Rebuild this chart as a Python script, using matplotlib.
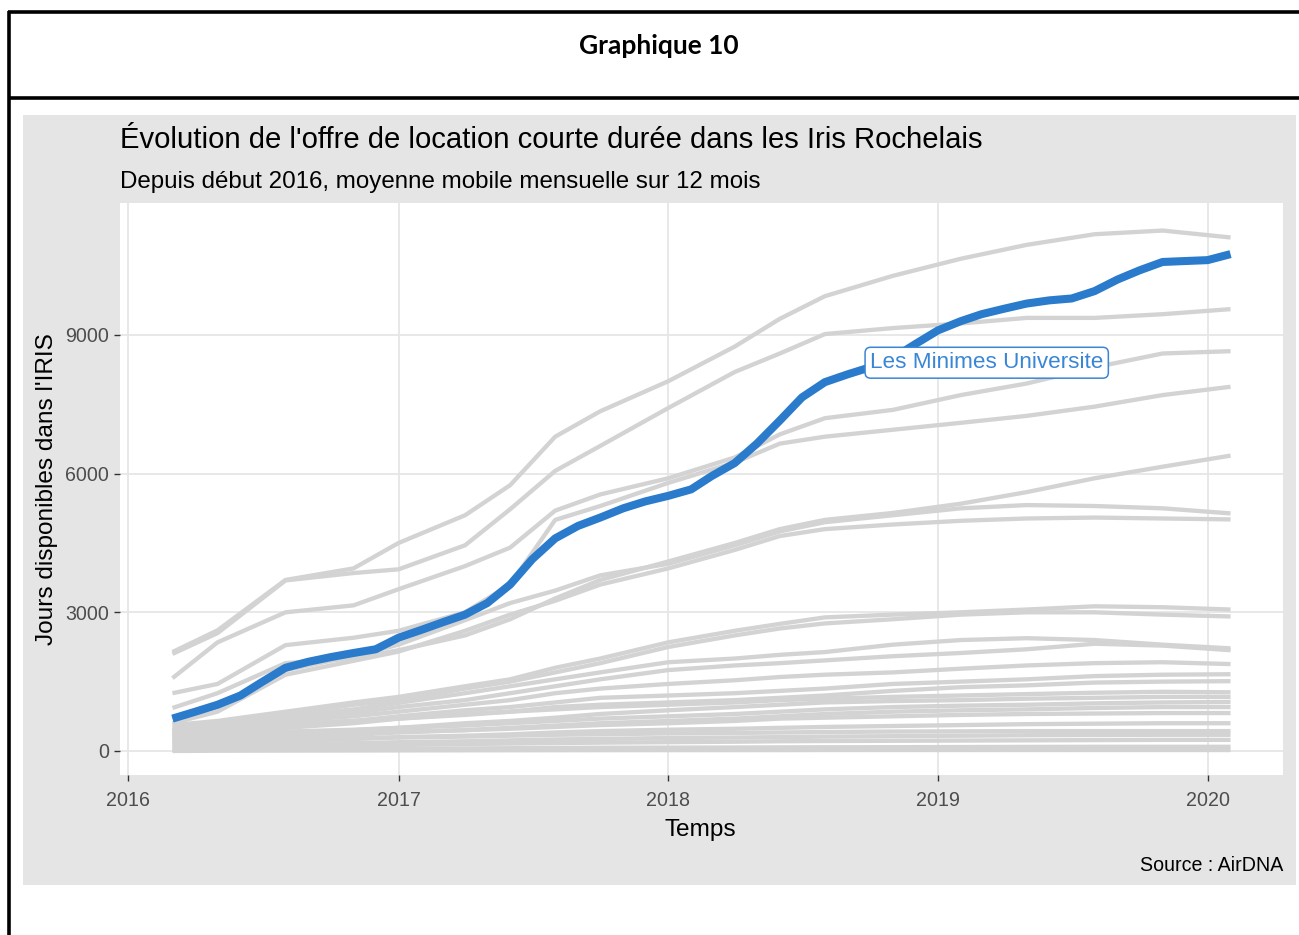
import matplotlib
matplotlib.use("Agg")
import matplotlib.pyplot as plt
import matplotlib.dates as mdates
from matplotlib.patches import Rectangle
from matplotlib.lines import Line2D
import pandas as pd
import datetime as dt

# ---------------- data ----------------
blue_name = "Les Minimes Universite"
blue_dates = pd.date_range("2016-03-01", "2020-02-01", freq="MS")
blue_values = [700, 850, 1000, 1200, 1500, 1800, 1930, 2030, 2120, 2200,
               2450, 2620, 2780, 2950, 3200, 3600, 4150, 4600, 4870, 5050,
               5250, 5400, 5520, 5660, 5950, 6230, 6650, 7150, 7650, 7980,
               8150, 8300, 8500, 8800, 9100, 9300, 9450, 9570, 9680, 9750,
               9790, 9950, 10200, 10400, 10580, 10600, 10620, 10750]

grey_dates = pd.to_datetime([
    "2016-03-01", "2016-05-01", "2016-08-01", "2016-11-01", "2017-01-01",
    "2017-04-01", "2017-06-01", "2017-08-01", "2017-10-01", "2018-01-01",
    "2018-04-01", "2018-06-01", "2018-08-01", "2018-11-01", "2019-02-01",
    "2019-05-01", "2019-08-01", "2019-11-01", "2020-02-01"])

iris_a = [2140, 2610, 3700, 3950, 4500, 5100, 5750, 6800, 7350, 8000, 8750, 9350, 9840, 10280, 10650, 10950, 11180, 11260, 11110]
iris_b = [2100, 2550, 3690, 3850, 3930, 4450, 5230, 6060, 6600, 7420, 8200, 8600, 9020, 9150, 9250, 9370, 9370, 9450, 9560]
iris_c = [1575, 2350, 3000, 3150, 3500, 4000, 4400, 5200, 5550, 5900, 6350, 6850, 7200, 7380, 7700, 7950, 8300, 8600, 8650]
iris_d = [1250, 1450, 2290, 2450, 2600, 3000, 3600, 5000, 5300, 5800, 6240, 6650, 6800, 6950, 7100, 7250, 7450, 7700, 7880]
iris_e = [930, 1250, 1900, 2000, 2180, 2500, 2850, 3300, 3700, 4100, 4500, 4800, 5000, 5150, 5350, 5600, 5900, 6150, 6390]
iris_f = [700, 950, 1750, 2050, 2300, 2830, 3200, 3470, 3800, 4050, 4450, 4750, 4950, 5100, 5250, 5320, 5300, 5250, 5140]
iris_g = [600, 850, 1650, 1950, 2150, 2600, 2950, 3250, 3600, 3950, 4350, 4650, 4800, 4900, 4980, 5030, 5050, 5030, 5010]
iris_h = [560, 650, 850, 1050, 1170, 1400, 1550, 1800, 2000, 2350, 2600, 2750, 2890, 2950, 3000, 3060, 3130, 3110, 3060]
iris_i = [500, 600, 800, 1000, 1100, 1350, 1500, 1700, 1900, 2250, 2500, 2650, 2760, 2850, 2950, 3000, 3000, 2950, 2910]
iris_j = [450, 550, 750, 900, 1040, 1250, 1400, 1550, 1700, 1920, 2000, 2080, 2140, 2300, 2400, 2440, 2400, 2300, 2220]
iris_k = [400, 500, 680, 820, 950, 1100, 1250, 1400, 1550, 1750, 1850, 1900, 1960, 2050, 2120, 2200, 2320, 2280, 2180]
iris_l = [400, 480, 650, 750, 850, 1000, 1100, 1250, 1350, 1450, 1530, 1600, 1650, 1700, 1780, 1850, 1900, 1920, 1880]
iris_m = [350, 420, 550, 650, 750, 880, 950, 1050, 1150, 1200, 1250, 1300, 1350, 1450, 1500, 1550, 1620, 1650, 1660]
iris_n = [300, 380, 500, 600, 700, 800, 850, 950, 1000, 1050, 1100, 1150, 1200, 1300, 1380, 1420, 1480, 1500, 1510]
iris_o = [450, 500, 600, 650, 700, 780, 850, 900, 950, 1000, 1050, 1100, 1130, 1170, 1200, 1230, 1260, 1280, 1270]
iris_p = [250, 300, 400, 450, 500, 600, 650, 720, 800, 880, 950, 1000, 1050, 1080, 1100, 1130, 1150, 1170, 1170]
iris_q = [350, 380, 420, 460, 500, 550, 600, 650, 700, 750, 800, 850, 900, 950, 980, 1000, 1030, 1050, 1060]
iris_r = [200, 250, 300, 350, 400, 450, 500, 550, 600, 650, 700, 750, 800, 850, 880, 900, 930, 950, 950]
iris_s = [300, 320, 350, 380, 420, 450, 480, 520, 560, 600, 650, 700, 720, 750, 780, 800, 810, 820, 820]
iris_t = [150, 180, 220, 260, 300, 330, 360, 400, 430, 460, 480, 500, 520, 540, 560, 580, 590, 600, 600]
iris_u = [200, 220, 250, 270, 290, 310, 330, 350, 360, 380, 390, 400, 410, 420, 425, 430, 430, 430, 430]
iris_v = [100, 120, 150, 170, 190, 210, 230, 250, 260, 280, 290, 300, 310, 320, 330, 340, 345, 350, 350]
iris_w = [80, 90, 110, 120, 130, 150, 160, 170, 180, 190, 200, 210, 215, 220, 225, 230, 235, 240, 240]
iris_x = [30, 35, 40, 45, 50, 55, 60, 65, 70, 72, 75, 78, 80, 82, 85, 88, 90, 90, 90]
iris_y = [0, 5, 8, 10, 12, 14, 15, 16, 17, 18, 18, 19, 20, 20, 20, 20, 20, 20, 20]

grey_series = [iris_a, iris_b, iris_c, iris_d, iris_e, iris_f, iris_g, iris_h,
               iris_i, iris_j, iris_k, iris_l, iris_m, iris_n, iris_o, iris_p,
               iris_q, iris_r, iris_s, iris_t, iris_u, iris_v, iris_w, iris_x, iris_y]

y_ticks = [0, 3000, 6000, 9000]
x_tick_years = [2016, 2017, 2018, 2019, 2020]

title = "Évolution de l'offre de location courte durée dans les Iris Rochelais"
subtitle = "Depuis début 2016, moyenne mobile mensuelle sur 12 mois"
caption = "Source : AirDNA"
x_title = "Temps"
y_title = "Jours disponibles dans l'IRIS"
doc_title = "Graphique 10"

# ---------------- figure ----------------
W, H = 1299, 935
fig = plt.figure(figsize=(W / 100, H / 100), dpi=100)
fig.patch.set_facecolor("white")

def fx(px):
    return px / W

def fy(py):
    return 1 - py / H

# document frame
frame_kw = dict(color="black", lw=2.6, transform=fig.transFigure, solid_capstyle="butt")
fig.add_artist(Line2D([fx(8), 1.0], [fy(12), fy(12)], **frame_kw))
fig.add_artist(Line2D([fx(8), 1.0], [fy(98), fy(98)], **frame_kw))
fig.add_artist(Line2D([fx(9), fx(9)], [fy(11), 0.0], **frame_kw))
fig.text(fx(659), fy(54), doc_title, ha="center", va="baseline",
         fontsize=19, fontweight="bold", family="Lato", color="black")

# ggplot plot background
fig.add_artist(Rectangle((fx(23), fy(885)), fx(1296) - fx(23), fy(115) - fy(885),
                         transform=fig.transFigure, facecolor="#E5E5E5",
                         edgecolor="none", zorder=0))

font = "Liberation Sans"
ax = fig.add_axes([fx(120), fy(775), fx(1283) - fx(120), fy(203) - fy(775)])
ax.set_facecolor("white")
for s in ax.spines.values():
    s.set_visible(False)

grey = "#D3D3D3"
blue = "#2A7BCB"
for vals in grey_series:
    ax.plot(grey_dates, vals, color=grey, lw=3.1, solid_capstyle="butt", zorder=2)
ax.plot(blue_dates, blue_values, color=blue, lw=5.8, solid_capstyle="butt", zorder=3)

ax.set_xlim(dt.datetime(2015, 12, 21), dt.datetime(2020, 4, 12))
ax.set_ylim(-520, 11856)
ax.set_xticks([dt.datetime(y, 1, 1) for y in x_tick_years])
ax.xaxis.set_major_formatter(mdates.DateFormatter("%Y"))
ax.set_yticks(y_ticks)
ax.set_yticklabels([str(v) for v in y_ticks])
ax.grid(True, color="#E6E6E6", lw=1.3, zorder=0)
ax.set_axisbelow(True)
ax.tick_params(axis="both", length=4, width=1.0, color="#333333",
               labelcolor="#4D4D4D", labelsize=14.1)
ax.tick_params(axis="x", pad=7.5)
ax.tick_params(axis="y", pad=4)
for lab in ax.get_xticklabels() + ax.get_yticklabels():
    lab.set_family(font)

ax.annotate(blue_name, xy=(dt.datetime(2019, 3, 8), 8400), ha="center", va="center",
            fontsize=16.2, family=font, color="#3A86D6", zorder=5,
            bbox=dict(boxstyle="round,pad=0.22,rounding_size=0.25", fc="white",
                      ec="#3A86D6", lw=1.1))

fig.text(fx(120), fy(148), title, ha="left", va="baseline", fontsize=21.1,
         family=font, color="black")
fig.text(fx(120), fy(188), subtitle, ha="left", va="baseline", fontsize=17.4,
         family=font, color="black")
fig.text(fx(1283), fy(871), caption, ha="right", va="baseline", fontsize=14.1,
         family=font, color="black")
fig.text(fx(700), fy(836), x_title, ha="center", va="baseline", fontsize=17.6,
         family=font, color="black")
fig.text(fx(47), fy(489), y_title, ha="center", va="center", rotation=90,
         fontsize=17.6, family=font, color="black")

fig.savefig("out.png", dpi=100, facecolor="white")
